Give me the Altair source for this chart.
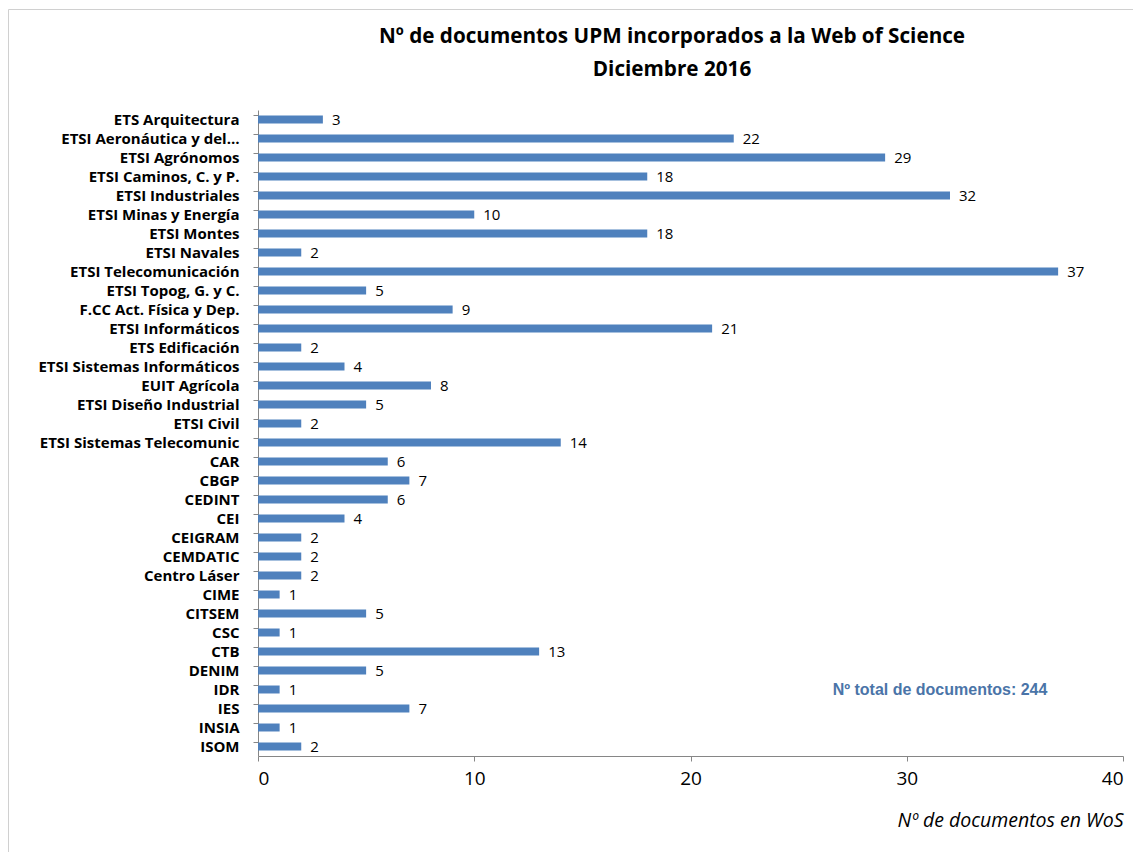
import altair as alt
import pandas as pd

categories = [
    "ETS Arquitectura", "ETSI Aeronáutica y del…", "ETSI Agrónomos",
    "ETSI Caminos, C. y P.", "ETSI Industriales", "ETSI Minas y Energía",
    "ETSI Montes", "ETSI Navales", "ETSI Telecomunicación", "ETSI Topog, G. y C.",
    "F.CC Act. Física y Dep.", "ETSI Informáticos", "ETS Edificación",
    "ETSI Sistemas Informáticos", "EUIT Agrícola", "ETSI Diseño Industrial",
    "ETSI Civil", "ETSI Sistemas Telecomunic", "CAR", "CBGP", "CEDINT", "CEI",
    "CEIGRAM", "CEMDATIC", "Centro Láser", "CIME", "CITSEM", "CSC", "CTB",
    "DENIM", "IDR", "IES", "INSIA", "ISOM",
]
values = [3, 22, 29, 18, 32, 10, 18, 2, 37, 5, 9, 21, 2, 4, 8, 5, 2, 14,
          6, 7, 6, 4, 2, 2, 2, 1, 5, 1, 13, 5, 1, 7, 1, 2]
x_ticks = [0, 10, 20, 30, 40]
total_text = "Nº total de documentos: 244"
title_lines = ["Nº de documentos UPM incorporados  a la Web of Science", "Diciembre 2016"]
x_title = "Nº de documentos en WoS"

df = pd.DataFrame({"centro": categories, "n": values})

FONT = "Open Sans"
BLUE = "#4F81BD"
W, H = 865, 646

y_enc = alt.Y(
    "centro:N", sort=categories, title=None,
    scale=alt.Scale(paddingInner=0.58, paddingOuter=0.29),
    axis=alt.Axis(
        labelFont=FONT, labelFontSize=15, labelFontWeight="bold", labelColor="black",
        labelPadding=14, tickSize=5, tickColor="#868686", domainColor="#868686",
        bandPosition=0, labelOffset=0, labelLimit=300,
    ),
)
x_enc = alt.X(
    "n:Q", title=x_title,
    scale=alt.Scale(domain=[0, 40], nice=False),
    axis=alt.Axis(
        values=x_ticks, grid=False, labelFont=FONT, labelFontSize=19, labelColor="black",
        labelPadding=8, tickSize=5, tickColor="#868686", domainColor="#868686",
        titleFont=FONT, titleFontSize=19.5, titleFontStyle="italic", titleFontWeight="normal",
        titleColor="black", titleAnchor="end", titlePadding=23,
    ),
)

bars = alt.Chart(df).mark_bar(color=BLUE).encode(x=x_enc, y=y_enc)
labels = alt.Chart(df).mark_text(
    align="left", baseline="middle", dx=9, font=FONT, fontSize=15, color="black"
).encode(x="n:Q", y=alt.Y("centro:N", sort=categories), text="n:Q")

note = alt.Chart(alt.Data(values=[{"t": total_text}])).mark_text(
    font="Liberation Sans", fontSize=16, fontWeight="bold", color="#4A74A8",
    align="center", baseline="middle",
).encode(x=alt.value(682), y=alt.value(580), text="t:N")

title1 = alt.Chart(alt.Data(values=[{"t": title_lines[0]}])).mark_text(
    font=FONT, fontSize=20.7, fontWeight="bold", color="black", align="center", baseline="middle",
).encode(x=alt.value(414), y=alt.value(-73), text="t:N")
title2 = alt.Chart(alt.Data(values=[{"t": title_lines[1]}])).mark_text(
    font=FONT, fontSize=20.7, fontWeight="bold", color="black", align="center", baseline="middle",
).encode(x=alt.value(414), y=alt.value(-40), text="t:N")

border = alt.Chart(alt.Data(values=[{}])).mark_rect(
    fill=None, stroke="#d0d0d0", strokeWidth=1, clip=False
).encode(x=alt.value(-249.5), y=alt.value(-100.5), x2=alt.value(1000), y2=alt.value(900))

chart = alt.layer(border, bars, labels, note, title1, title2).properties(
    width=W, height=H,
    autosize=alt.AutoSizeParams(type="none"),
    padding={"left": 250, "top": 102, "right": 10, "bottom": 96},
).configure_view(stroke=None)

chart.save("out.html", embed_options={"renderer": "svg", "actions": False})
